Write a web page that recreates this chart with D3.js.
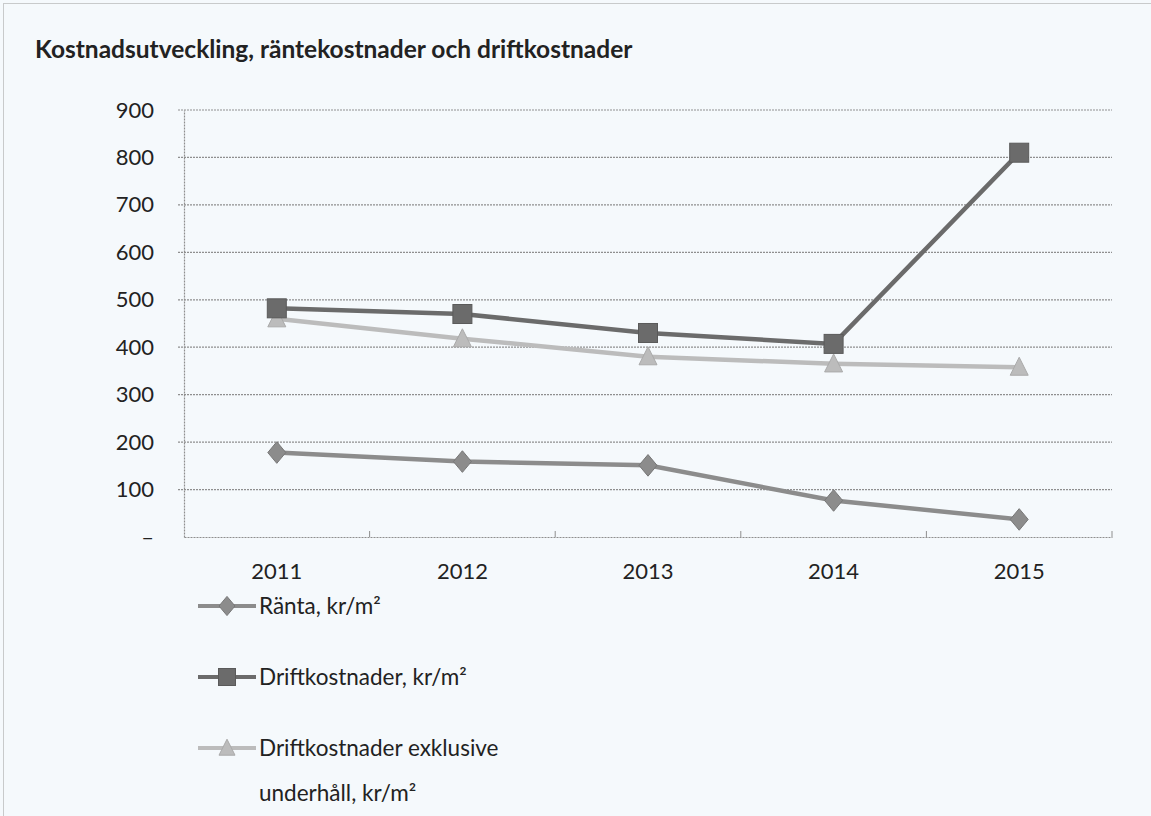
<!DOCTYPE html>
<html>
<head>
<meta charset="utf-8">
<script src="https://cdn.jsdelivr.net/npm/d3@7"></script>
<style>
  html, body { margin: 0; padding: 0; background: #f5f9fc; }
  svg { display: block; }
  text { font-family: "Lato", "Open Sans", sans-serif; fill: #222; }
</style>
</head>
<body>
<svg id="chart" width="1151" height="816"></svg>
<script>
// chart data
var years = ["2011", "2012", "2013", "2014", "2015"];
var ranta = [178, 159, 151, 77, 37];
var drift = [482, 470, 430, 407, 810];
var driftExkl = [460, 418, 380, 365, 358];
var yTicks = [0, 100, 200, 300, 400, 500, 600, 700, 800, 900];
var seriesNames = ["Ränta, kr/m²", "Driftkostnader, kr/m²", "Driftkostnader exklusive|underhåll, kr/m²"];

var series = [
  {name: seriesNames[0], values: ranta, color: "#8c8c8c", shape: "diamond"},
  {name: seriesNames[1], values: drift, color: "#6b6b6b", shape: "square"},
  {name: seriesNames[2], values: driftExkl, color: "#bcbcbc", shape: "triangle"}
];

var svg = d3.select("#chart");

// outer dotted frame like the scan
svg.append("rect")
  .attr("x", 3.5).attr("y", 3.5)
  .attr("width", 1160).attr("height", 830)
  .attr("fill", "none")
  .attr("stroke", "#9a9a9a")
  .attr("stroke-width", 1)
  .attr("stroke-dasharray", "1,1");

svg.append("text")
  .attr("x", 35).attr("y", 58)
  .style("font-size", "24.5px")
  .style("font-weight", "bold")
  .text("Kostnadsutveckling, räntekostnader och driftkostnader");

var plot = {left: 184, right: 1112, top: 110, bottom: 537};

var xBand = d3.scaleBand().domain(years).range([plot.left, plot.right]);
var x = d3.scalePoint().domain(years).range([plot.left, plot.right]).padding(0.5);
var y = d3.scaleLinear().domain([0, 900]).range([plot.bottom, plot.top]);

// gridlines
svg.append("g")
  .selectAll("line")
  .data(yTicks.filter(d => d > 0))
  .join("line")
    .attr("x1", plot.left - 6).attr("x2", plot.right)
    .attr("y1", d => y(d)).attr("y2", d => y(d))
    .attr("stroke", "#8f8f8f")
    .attr("stroke-width", 1.2)
    .attr("stroke-dasharray", "2,1");

// y axis
var yAxis = svg.append("g")
  .attr("transform", `translate(${plot.left},0)`)
  .call(d3.axisLeft(y).tickValues(yTicks).tickSize(0).tickPadding(30)
        .tickFormat(d => d === 0 ? "–" : d));
yAxis.select(".domain").attr("stroke", "#8f8f8f").attr("stroke-width", 1.2).attr("stroke-dasharray", "2,1");
yAxis.selectAll("text")
  .style("font-size", "22px")
  .style("font-family", "Lato, 'Open Sans', sans-serif")
  .attr("fill", "#222");

// x axis
var xAxis = svg.append("g")
  .attr("transform", `translate(0,${plot.bottom})`)
  .call(d3.axisBottom(xBand).tickSize(0).tickPadding(26));
xAxis.select(".domain").attr("stroke", "#8f8f8f").attr("stroke-width", 1.2).attr("stroke-dasharray", "2,1");
xAxis.selectAll("text")
  .style("font-size", "22px")
  .style("font-family", "Lato, 'Open Sans', sans-serif")
  .attr("fill", "#222");

// small tick marks between categories
svg.append("g")
  .selectAll("line")
  .data(years.slice(1).map(d => xBand(d)).concat([plot.right]))
  .join("line")
    .attr("x1", d => d).attr("x2", d => d)
    .attr("y1", plot.bottom).attr("y2", plot.bottom - 6)
    .attr("stroke", "#8f8f8f");

function marker(g, shape, color, size) {
  if (shape === "diamond") {
    g.append("path")
      .attr("d", `M0,${-size * 0.6}L${size * 0.5},0L0,${size * 0.6}L${-size * 0.5},0Z`)
      .attr("fill", color).attr("stroke", "#777").attr("stroke-width", 1);
  } else if (shape === "square") {
    g.append("rect")
      .attr("x", -size / 2).attr("y", -size / 2)
      .attr("width", size).attr("height", size)
      .attr("fill", color).attr("stroke", "#5a5a5a").attr("stroke-width", 1);
  } else {
    g.append("path")
      .attr("d", `M0,${-size * 0.55}L${size * 0.5},${size * 0.45}L${-size * 0.5},${size * 0.45}Z`)
      .attr("fill", color).attr("stroke", "#aaa").attr("stroke-width", 1);
  }
}

var line = d3.line()
  .x((d, i) => x(years[i]))
  .y(d => y(d));

// draw lower series last so drift squares overlap triangles like in the scan
[series[2], series[0], series[1]].forEach(function(s) {
  svg.append("path")
    .datum(s.values)
    .attr("d", line)
    .attr("fill", "none")
    .attr("stroke", s.color)
    .attr("stroke-width", 4.5);

  s.values.forEach(function(v, i) {
    var g = svg.append("g").attr("transform", `translate(${x(years[i])},${y(v)})`);
    marker(g, s.shape, s.color, s.shape === "square" ? 19 : 18);
  });
});

// legend
var legendRows = [606, 677, 748];
series.forEach(function(s, i) {
  var g = svg.append("g").attr("transform", `translate(198,${legendRows[i]})`);
  g.append("line")
    .attr("x1", 0).attr("x2", 58)
    .attr("stroke", s.color).attr("stroke-width", 4);
  var m = g.append("g").attr("transform", "translate(29,0)");
  marker(m, s.shape, s.color, s.shape === "square" ? 17 : 16);
  var lines = s.name.split("|");
  lines.forEach(function(t, j) {
    g.append("text")
      .attr("x", 61).attr("y", 8 + j * 45)
      .style("font-size", "22.5px")
      .text(t);
  });
});
</script>
</body>
</html>
